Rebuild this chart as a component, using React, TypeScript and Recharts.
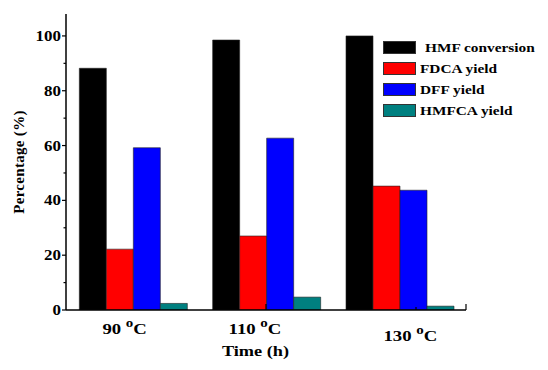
import React from 'react';
import { BarChart, Bar, XAxis, YAxis, Legend, Label, ReferenceLine } from 'recharts';

const temps = ['90', '110', '130'];
const hmfConversion = [88.2, 98.5, 100];
const fdcaYield = [22.2, 27, 45.2];
const dffYield = [59.2, 62.7, 43.7];
const hmfcaYield = [2.4, 4.7, 1.4];

const seriesNames = ['HMF conversion', 'FDCA yield', 'DFF yield', 'HMFCA yield'];
const seriesKeys = ['hmf', 'fdca', 'dff', 'hmfca'];
const seriesColors = ['#000000', '#ff0000', '#0000ff', '#008080'];

const yTicks = [0, 10, 20, 30, 40, 50, 60, 70, 80, 90, 100];
const xMinorTicks = [0.75, 1, 1.75, 2, 2.75, 3];

const data = temps.map((t, i) => ({
  temp: t,
  hmf: hmfConversion[i],
  fdca: fdcaYield[i],
  dff: dffYield[i],
  hmfca: hmfcaYield[i],
}));

const FONT = '"Liberation Serif", "Times New Roman", serif';

// the original labels sit a bit off-centre
const xLabelShift = [
  [-8, 24],
  [-11, 24],
  [11, 31],
];

const YTick = ({ x, y, payload }: any) => {
  const major = payload.value % 20 === 0;
  return (
    <g>
      <line x1={x - (major ? 4 : 2.5)} x2={x} y1={y} y2={y} stroke="#000" strokeWidth={1.2} />
      {major && (
        <text
          transform={`translate(${x - 5},${y + 5}) scale(1.13,1)`}
          textAnchor="end"
          fontFamily={FONT}
          fontWeight="bold"
          fontSize={15}
          fill="#000"
        >
          {payload.value}
        </text>
      )}
    </g>
  );
};

const XTick = ({ x, y, payload, index }: any) => {
  const [dx, dy] = xLabelShift[index] || [0, 24];
  return (
    <g transform={`translate(${x + dx},${y + dy}) scale(1.25,1)`}>
      <text x={0} y={0} textAnchor="middle" fontFamily={FONT} fontWeight="bold" fontSize={15} fill="#000">
        {payload.value}{' '}
        <tspan dy={-7} fontSize={12}>o</tspan>
        <tspan dy={7}>C</tspan>
      </text>
    </g>
  );
};

const TimeLabel = ({ viewBox }: any) => {
  const { x, y, width, height } = viewBox;
  return (
    <g transform={`translate(${x + width / 2 - 10.5},${y + height - 14}) scale(1.22,1)`}>
      <text x={0} y={0} textAnchor="middle" fontFamily={FONT} fontWeight="bold" fontSize={15} fill="#000">
        Time (h)
      </text>
    </g>
  );
};

const LegendBox = () => (
  <div style={{ fontFamily: FONT, fontWeight: 'bold', fontSize: 13, color: '#000' }}>
    {seriesNames.map((n, i) => (
      <div key={n} style={{ display: 'flex', alignItems: 'center', height: 21 }}>
        <div
          style={{
            width: 31,
            height: 11,
            background: seriesColors[i],
            border: '1px solid #333',
            marginRight: i === 0 ? 9 : 4,
          }}
        />
        <span style={{ display: 'inline-block', transform: 'scaleX(1.18)', transformOrigin: 'left center', whiteSpace: 'nowrap' }}>
          {n}
        </span>
      </div>
    ))}
  </div>
);

export default function App() {
  return (
    <div style={{ position: 'absolute', left: 0, top: 0, background: '#fff' }}>
      <BarChart
        width={548}
        height={370}
        data={data}
        margin={{ top: 14, right: 82, left: 0, bottom: 0 }}
        barCategoryGap="10%"
        barGap={0}
      >
        <XAxis
          dataKey="temp"
          height={60}
          axisLine={{ stroke: '#000', strokeWidth: 1.5 }}
          tickLine={false}
          tickSize={0}
          tickMargin={0}
          tick={<XTick />}
          interval={0}
        >
          <Label content={<TimeLabel />} />
        </XAxis>
        <XAxis xAxisId="m" type="number" domain={[0, 3]} hide />
        <YAxis
          width={66}
          domain={[0, 108]}
          ticks={yTicks}
          interval={0}
          allowDataOverflow
          axisLine={{ stroke: '#000', strokeWidth: 1.5 }}
          tickLine={false}
          tickSize={0}
          tickMargin={0}
          tick={<YTick />}
        >
          <Label
            value="Percentage (%)"
            angle={-90}
            position="insideLeft"
            offset={19}
            style={{ textAnchor: 'middle', fontFamily: FONT, fontWeight: 'bold', fontSize: 15, fill: '#000', letterSpacing: 0.3 }}
          />
        </YAxis>
        <Legend
          layout="horizontal"
          verticalAlign="middle"
          align="center"
          content={<LegendBox />}
          wrapperStyle={{ position: 'absolute', left: 383, top: 37, width: 165 }}
        />
        {seriesKeys.map((k, i) => (
          <Bar
            key={k}
            dataKey={k}
            name={seriesNames[i]}
            fill={seriesColors[i]}
            stroke="#222"
            strokeWidth={0.6}
            isAnimationActive={false}
          />
        ))}
        {xMinorTicks.map((t) => (
          <ReferenceLine
            key={t}
            xAxisId="m"
            segment={[
              { x: t, y: 0 },
              { x: t, y: Number.isInteger(t) ? 2.2 : 1.1 },
            ]}
            stroke="#000"
            strokeWidth={1.2}
          />
        ))}
      </BarChart>
    </div>
  );
}
